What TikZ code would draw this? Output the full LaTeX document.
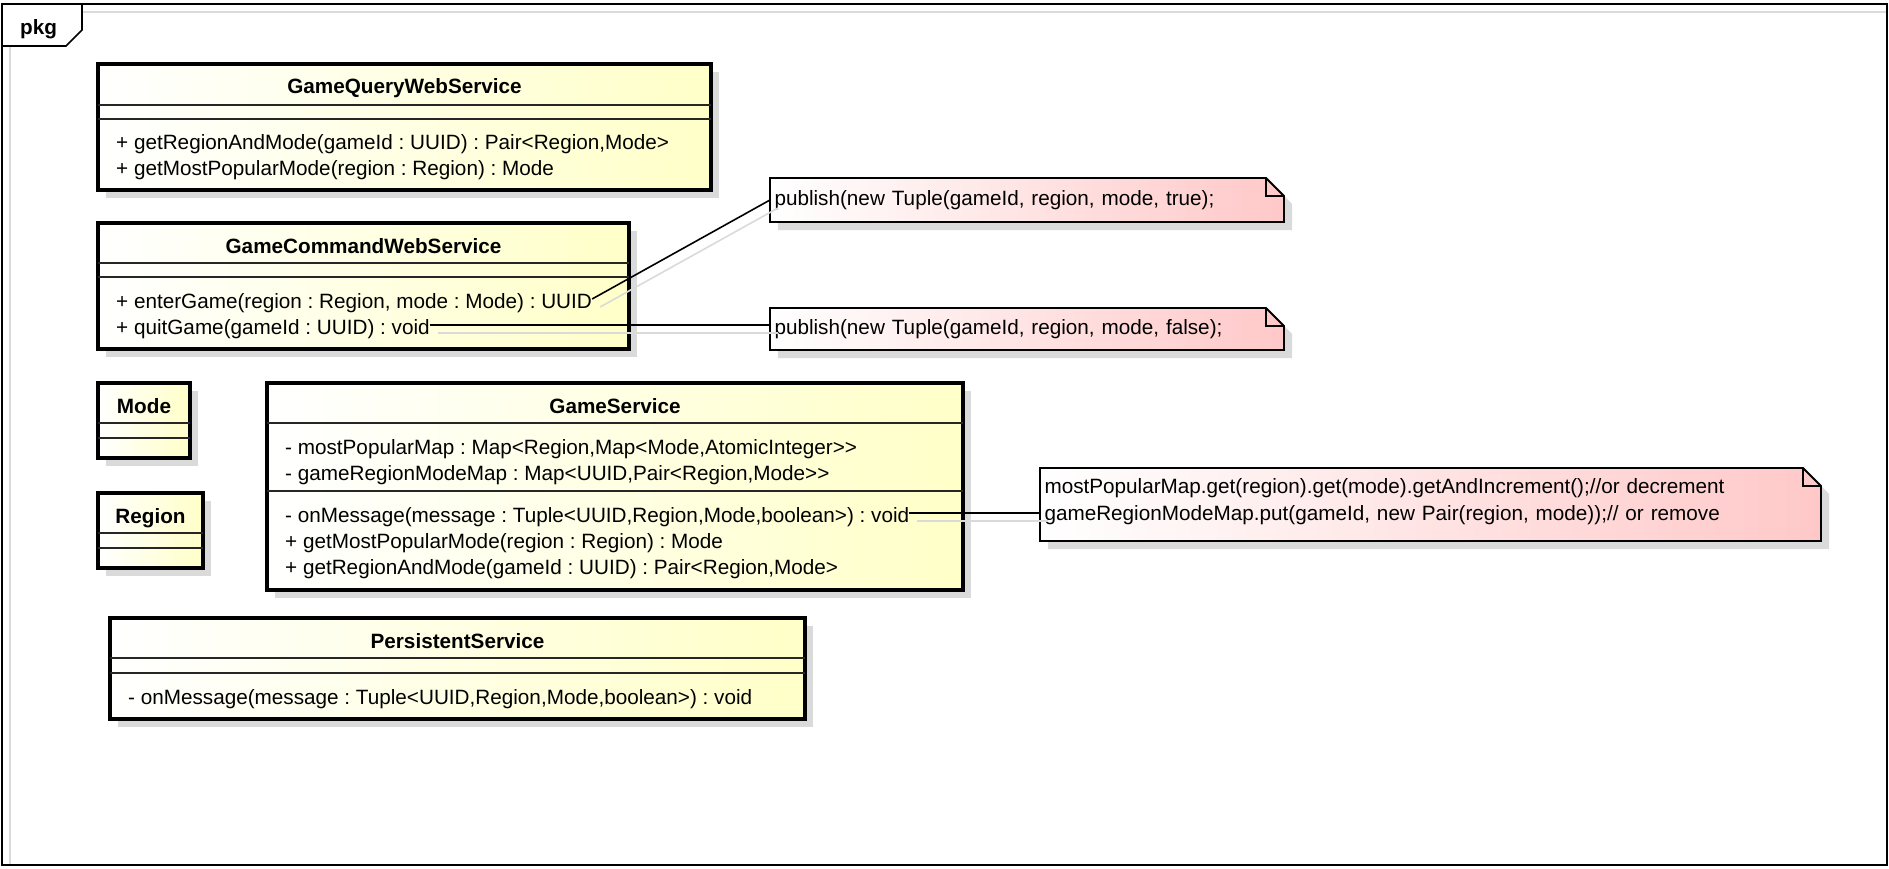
\documentclass[tikz,border=0pt]{standalone}
\usepackage{fontspec}
\setmainfont{Liberation Sans}
\usetikzlibrary{shadows,backgrounds}

\definecolor{classyellow}{RGB}{255,255,200}
\definecolor{notepink}{RGB}{255,200,200}
\definecolor{shadowgray}{RGB}{218,218,218}

\newcommand{\notefold}[1]{%
	\begin{scope}[on background layer]
		\fill [shadowgray] ([xshift=8pt,yshift=-8pt]#1.north west) -- ([xshift=-10pt,yshift=-8pt]#1.north east) -- ([xshift=8pt,yshift=-26pt]#1.north east) -- ([xshift=8pt,yshift=-8pt]#1.south east) -- ([xshift=8pt,yshift=-8pt]#1.south west) -- cycle;
		\shade [left color=white, right color=notepink] (#1.north west) -- ([xshift=-18pt]#1.north east) -- ([yshift=-18pt]#1.north east) -- (#1.south east) -- (#1.south west) -- cycle;
	\end{scope}
	\draw [line width=1.8pt] (#1.north west) -- ([xshift=-18pt]#1.north east) -- ([yshift=-18pt]#1.north east) -- (#1.south east) -- (#1.south west) -- cycle;
	\draw [line width=1.8pt] ([xshift=-18pt]#1.north east) |- ([yshift=-18pt]#1.north east);
}

\begin{document}
\frenchspacing
\fontsize{20.7}{27}\selectfont
\begin{tikzpicture}[x=1pt, y=-1pt,
		umlclass/.style={draw, line width=3.8pt, anchor=north west, inner sep=0pt, outer sep=0pt, left color=white, right color=classyellow, general shadow={fill=shadowgray, shadow xshift=8pt, shadow yshift=-8pt}},
		classname/.style={anchor=base, inner sep=0pt, font=\bfseries},
		member/.style={anchor=base west, inner sep=0pt, text height=18pt, text depth=0pt},
		compsep/.style={line width=1.3pt, black!85},
		umlnote/.style={anchor=north west, inner xsep=4.5pt, inner ysep=0pt, outer sep=0pt, align=left},
		noteline/.style={line width=1.6pt},
		shadowline/.style={line width=1.6pt, shadowgray}]
	\useasboundingbox (0,0) rectangle (1889,869);

	\draw [shadowgray, line width=2pt] (10,46) -- (10,865);
	\draw [shadowgray, line width=2pt] (82,12) -- (1887,12);
	\draw [line width=2pt] (2,4) rectangle (1887,865);
	\draw [line width=1.6pt] (2,46) -- (66,46) -- (82,30) -- (82,4);
	\node (pkg) [anchor=base west, inner sep=0pt, font=\bfseries] at (20,35) {pkg};

	\node (gq) [umlclass, minimum width=613, minimum height=126] at (98,64) {};
	\node (gqName) [classname] at (gq.north |- 0,94) {GameQueryWebService};
	\draw [compsep] (gq.west |- 0,105) -- (gq.east |- 0,105);
	\draw [compsep] (gq.west |- 0,119) -- (gq.east |- 0,119);
	\node (gqRegionMode) [member] at (116,150) {+ getRegionAndMode(gameId : UUID) : Pair<Region,Mode>};
	\node (gqPopular) [member] at (116,176) {+ getMostPopularMode(region : Region) : Mode};

	\node (gc) [umlclass, minimum width=531, minimum height=126] at (98,223) {};
	\node (gcName) [classname] at (gc.north |- 0,253) {GameCommandWebService};
	\draw [compsep] (gc.west |- 0,263) -- (gc.east |- 0,263);
	\draw [compsep] (gc.west |- 0,277) -- (gc.east |- 0,277);
	\node (gcEnter) [member] at (116,308) {+ enterGame(region : Region, mode : Mode) : UUID};
	\node (gcQuit) [member] at (116,334) {+ quitGame(gameId : UUID) : void};

	\node (mode) [umlclass, minimum width=92, minimum height=75] at (98,383) {};
	\node (modeName) [classname] at (mode.north |- 0,413) {Mode};
	\draw [compsep] (mode.west |- 0,423) -- (mode.east |- 0,423);
	\draw [compsep] (mode.west |- 0,438) -- (mode.east |- 0,438);

	\node (region) [umlclass, minimum width=105, minimum height=75] at (98,493) {};
	\node (regionName) [classname] at (region.north |- 0,523) {Region};
	\draw [compsep] (region.west |- 0,533) -- (region.east |- 0,533);
	\draw [compsep] (region.west |- 0,548) -- (region.east |- 0,548);

	\node (gs) [umlclass, minimum width=696, minimum height=207] at (267,383) {};
	\node (gsName) [classname] at (gs.north |- 0,413) {GameService};
	\draw [compsep] (gs.west |- 0,423) -- (gs.east |- 0,423);
	\node (gsPopularMap) [member] at (285,454) {- mostPopularMap : Map<Region,Map<Mode,AtomicInteger>{}>};
	\node (gsModeMap) [member] at (285,480) {- gameRegionModeMap : Map<UUID,Pair<Region,Mode>{}>};
	\draw [compsep] (gs.west |- 0,491) -- (gs.east |- 0,491);
	\node (gsOnMessage) [member] at (285,522) {- onMessage(message : Tuple<UUID,Region,Mode,boolean>) : void};
	\node (gsPopular) [member] at (285,548) {+ getMostPopularMode(region : Region) : Mode};
	\node (gsRegionMode) [member] at (285,574) {+ getRegionAndMode(gameId : UUID) : Pair<Region,Mode>};

	\node (ps) [umlclass, minimum width=695, minimum height=101] at (110,618) {};
	\node (psName) [classname] at (ps.north |- 0,648) {PersistentService};
	\draw [compsep] (ps.west |- 0,658) -- (ps.east |- 0,658);
	\draw [compsep] (ps.west |- 0,673) -- (ps.east |- 0,673);
	\node (psOnMessage) [member] at (128,704) {- onMessage(message : Tuple<UUID,Region,Mode,boolean>) : void};

	\node (n1) [umlnote, text width=505, minimum height=44] at (770,178) {publish(new Tuple(gameId, region, mode, true);};
	\node (n2) [umlnote, text width=505, minimum height=42] at (770,308) {publish(new Tuple(gameId, region, mode, false);};
	\node (n3) [umlnote, text width=772, text depth=38pt, minimum height=73] at (1040,468) {mostPopularMap.get(region).get(mode).getAndIncrement();//or decrement\\gameRegionModeMap.put(gameId, new Pair(region, mode));// or remove};
	\notefold{n1}
	\notefold{n2}
	\notefold{n3}

	\draw [shadowline] ([xshift=8pt,yshift=-8pt]gcEnter.east) -- ([xshift=8pt,yshift=-8pt]n1.west);
	\draw [noteline] (gcEnter.east) -- (n1.west);
	\draw [shadowline] ([xshift=8pt,yshift=-8pt]gcQuit.east) -- ([xshift=8pt,yshift=-8pt]gcQuit.east -| n2.west);
	\draw [noteline] (gcQuit.east) -- (gcQuit.east -| n2.west);
	\draw [shadowline] ([xshift=8pt,yshift=-8pt]gsOnMessage.east) -- ([xshift=8pt,yshift=-8pt]gsOnMessage.east -| n3.west);
	\draw [noteline] (gsOnMessage.east) -- (gsOnMessage.east -| n3.west);
\end{tikzpicture}
\end{document}
